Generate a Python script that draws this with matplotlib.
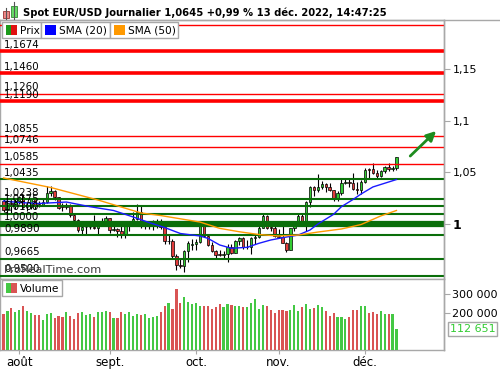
import numpy as np
import pandas as pd
import matplotlib
matplotlib.use('Agg')
import matplotlib.pyplot as plt
import matplotlib.transforms as mtransforms
from matplotlib.patches import Rectangle

# daily bars, 26 Jul -> 13 Dec 2022
dates = pd.bdate_range('2022-07-26', '2022-12-13')

opens = [1.0222, 1.0131, 1.0201, 1.0196, 1.0220, 1.0262, 1.0165, 1.0168, 1.0245, 1.0197,
         1.0189, 1.0212, 1.0298, 1.0319, 1.0257, 1.0172, 1.0168, 1.0178, 1.0086, 1.0037,
         0.9943, 0.9967, 0.9970, 0.9971, 0.9966, 1.0003, 1.0015, 1.0055, 0.9945, 0.9955,
         0.9928, 0.9903, 0.9996, 1.0002, 1.0045, 1.0120, 0.9976, 0.9977, 0.9998, 1.0014,
         1.0029, 0.9970, 0.9835, 0.9838, 0.9689, 0.9607, 0.9593, 0.9737, 0.9796, 0.9802,
         0.9825, 0.9986, 0.9886, 0.9793, 0.9742, 0.9707, 0.9702, 0.9707, 0.9778, 0.9720,
         0.9838, 0.9864, 0.9776, 0.9780, 0.9862, 0.9877, 0.9964, 1.0079, 0.9968, 0.9962,
         0.9882, 0.9874, 0.9820, 0.9749, 0.9958, 1.0017, 1.0075, 1.0013, 1.0209, 1.0355,
         1.0325, 1.0356, 1.0386, 1.0363, 1.0325, 1.0244, 1.0303, 1.0397, 1.0409, 1.0396,
         1.0342, 1.0331, 1.0406, 1.0530, 1.0535, 1.0494, 1.0467, 1.0509, 1.0556, 1.0531,
         1.0540]
highs = [1.0249, 1.0210, 1.0234, 1.0254, 1.0274, 1.0294, 1.0209, 1.0254, 1.0253, 1.0223,
         1.0248, 1.0368, 1.0364, 1.0330, 1.0264, 1.0201, 1.0202, 1.0191, 1.0097, 1.0050,
         0.9998, 0.9999, 1.0011, 1.0090, 1.0028, 1.0055, 1.0079, 1.0057, 1.0033, 0.9957,
         0.9990, 1.0016, 1.0029, 1.0112, 1.0198, 1.0187, 1.0020, 1.0017, 1.0037, 1.0050,
         1.0051, 0.9976, 0.9906, 0.9852, 0.9709, 0.9669, 0.9750, 0.9838, 0.9854, 0.9854,
         0.9999, 0.9998, 0.9904, 0.9823, 0.9751, 0.9749, 0.9740, 0.9807, 0.9807, 0.9845,
         0.9876, 0.9874, 0.9848, 0.9873, 0.9900, 0.9976, 1.0094, 1.0088, 0.9980, 0.9976,
         0.9954, 0.9977, 0.9826, 0.9966, 1.0033, 1.0094, 1.0094, 1.0222, 1.0365, 1.0364,
         1.0481, 1.0420, 1.0395, 1.0399, 1.0330, 1.0322, 1.0449, 1.0448, 1.0434, 1.0497,
         1.0403, 1.0429, 1.0545, 1.0545, 1.0594, 1.0519, 1.0528, 1.0567, 1.0587, 1.0567,
         1.0650]
lows = [1.0112, 1.0095, 1.0111, 1.0145, 1.0198, 1.0160, 1.0123, 1.0150, 1.0141, 1.0162,
        1.0180, 1.0202, 1.0270, 1.0234, 1.0150, 1.0123, 1.0143, 1.0072, 1.0033, 0.9926,
        0.9899, 0.9902, 0.9947, 0.9950, 0.9900, 0.9984, 1.0001, 0.9911, 0.9933, 0.9877,
        0.9864, 0.9864, 0.9930, 0.9990, 1.0040, 0.9966, 0.9955, 0.9956, 0.9945, 0.9966,
        0.9954, 0.9810, 0.9807, 0.9671, 0.9553, 0.9571, 0.9536, 0.9635, 0.9749, 0.9751,
        0.9815, 0.9875, 0.9784, 0.9730, 0.9670, 0.9686, 0.9668, 0.9632, 0.9710, 0.9716,
        0.9799, 0.9757, 0.9757, 0.9706, 0.9809, 0.9862, 0.9961, 0.9955, 0.9933, 0.9872,
        0.9860, 0.9812, 0.9731, 0.9747, 0.9934, 0.9993, 1.0005, 0.9935, 1.0167, 1.0271,
        1.0313, 1.0335, 1.0313, 1.0318, 1.0222, 1.0227, 1.0282, 1.0385, 1.0356, 1.0332,
        1.0290, 1.0290, 1.0393, 1.0443, 1.0488, 1.0443, 1.0458, 1.0492, 1.0518, 1.0515,
        1.0522]
closes = [1.0131, 1.0201, 1.0196, 1.0220, 1.0262, 1.0165, 1.0168, 1.0245, 1.0180, 1.0189,
          1.0212, 1.0298, 1.0319, 1.0257, 1.0160, 1.0168, 1.0178, 1.0086, 1.0037, 0.9943,
          0.9967, 0.9970, 0.9971, 0.9966, 1.0003, 1.0015, 1.0055, 0.9945, 0.9955, 0.9928,
          0.9903, 1.0010, 1.0002, 1.0045, 1.0120, 0.9976, 0.9977, 0.9998, 1.0014, 1.0029,
          0.9970, 0.9835, 0.9838, 0.9689, 0.9607, 0.9593, 0.9737, 0.9815, 0.9802, 0.9825,
          0.9986, 0.9886, 0.9793, 0.9742, 0.9702, 0.9702, 0.9707, 0.9778, 0.9720, 0.9838,
          0.9864, 0.9776, 0.9780, 0.9862, 0.9877, 0.9964, 1.0079, 0.9964, 0.9962, 0.9882,
          0.9874, 0.9820, 0.9749, 0.9958, 1.0017, 1.0075, 1.0013, 1.0209, 1.0355, 1.0325,
          1.0356, 1.0386, 1.0363, 1.0325, 1.0244, 1.0303, 1.0397, 1.0409, 1.0396, 1.0342,
          1.0331, 1.0406, 1.0523, 1.0520, 1.0494, 1.0467, 1.0509, 1.0556, 1.0531, 1.0540,
          1.0645]

# volume in thousands
volumes = [194, 209, 225, 203, 214, 235, 210, 198, 189, 187, 160, 193, 198, 171, 180, 175,
           203, 182, 166, 198, 203, 189, 194, 176, 203, 203, 209, 203, 171, 171, 203, 193,
           203, 182, 194, 187, 194, 171, 176, 182, 205, 235, 251, 219, 326, 251, 283, 257,
           246, 251, 235, 235, 235, 219, 230, 246, 230, 246, 241, 235, 235, 230, 232, 251,
           273, 219, 241, 235, 214, 198, 214, 214, 209, 214, 241, 209, 230, 246, 219, 225,
           241, 230, 209, 182, 198, 176, 176, 166, 176, 214, 214, 235, 235, 198, 203, 193,
           209, 193, 193, 193, 112.651]

# moving averages at some bars
sma20_idx = [0, 4, 9, 16, 22, 28, 33, 37, 41, 45, 50, 52, 55, 58, 62, 65, 68, 72, 75,
             78, 80, 84, 86, 89, 91, 94, 98, 100]
sma20_val = [1.0223, 1.0208, 1.0199, 1.0213, 1.0168, 1.0131, 1.0068, 1.0015, 0.9966,
             0.9908, 0.9884, 0.9861, 0.9797, 0.9765, 0.9774, 0.9813, 0.9845, 0.9874,
             0.9893, 0.9942, 1.0000, 1.0094, 1.0168, 1.0239, 1.0291, 1.0359, 1.0407, 1.0431]
sma50_idx = [0, 12, 24, 35, 40, 50, 55, 60, 65, 70, 75, 80, 86, 91, 96, 100]
sma50_val = [1.0446, 1.0354, 1.0233, 1.0107, 1.0082, 1.0019, 0.9958, 0.9925, 0.9898,
             0.9884, 0.9893, 0.9922, 0.9952, 0.9995, 1.0078, 1.0131]

# support / resistance levels
levels = [1.1928, 1.1674, 1.1460, 1.1260, 1.1190, 1.0855, 1.0746, 1.0585,
          1.0435, 1.0238, 1.0175, 1.0100, 1.0000, 0.9890, 0.9665, 0.9500]
level_labels = ['', '1,1674', '1,1460', '1,1260', '1,1190', '1,0855', '1,0746', '1,0585',
                '1,0435', '1,0238', '1,0175', '1,0100', '1,0000', '0,9890', '0,9665', '0,9500']
level_widths = [1, 2.6, 2.6, 1, 2.6, 1, 1, 1, 1.5, 1.5, 1.5, 1.5, 4.5, 1.5, 1.5, 1.5]

price_ticks = [1.0, 1.05, 1.1, 1.15]
price_tick_labels = ['1', '1,05', '1,1', '1,15']
vol_ticks = [200000, 300000]
vol_tick_labels = ['200 000', '300 000']
month_labels = ['août', 'sept.', 'oct.', 'nov.', 'déc.']
title = 'Spot EUR/USD Journalier 1,0645 +0,99 % 13 déc. 2022, 14:47:25'
last_volume_label = '112 651'
arrow_from = (103, 1.064)
arrow_to = (110.6, 1.092)

GREEN = '#33cc33'
RED = '#e23b3b'
VGREEN = '#44c844'
VRED = '#d95454'
LINE_RED = '#ff0000'
LINE_GREEN = '#0a6e0a'
FRAME = '#a8a8a8'

W, H = 500, 370
fig = plt.figure(figsize=(W / 100, H / 100), dpi=100)


def px_axes(x0, y0, x1, y1):
    return fig.add_axes([x0 / W, 1 - y1 / H, (x1 - x0) / W, (y1 - y0) / H])


ax = px_axes(0, 20, 444, 278.5)
axv = px_axes(0, 279, 444, 350)

x = np.arange(len(dates))
o, h, l, c = map(np.array, (opens, highs, lows, closes))
up = c >= o
xlim = (-0.9, 112.1)

# candles
ax.vlines(x, l, h, color='black', lw=0.8, zorder=3)
ax.bar(x, np.maximum(np.abs(c - o), 0.0002), bottom=np.minimum(o, c), width=0.62,
       color=np.where(up, GREEN, RED), edgecolor='black', linewidth=0.5, zorder=4)

blend = mtransforms.blended_transform_factory(ax.transAxes, ax.transData)
for lev, lab, lw in zip(levels, level_labels, level_widths):
    col = LINE_RED if lev > 1.05 else LINE_GREEN
    ax.axhline(lev, color=col, lw=lw, zorder=5)
    if lab:
        ax.annotate(lab, xy=(0, lev), xycoords=blend, xytext=(3, 2.6),
                    textcoords='offset points', fontsize=7.4, va='baseline',
                    ha='left', zorder=7)

ax.plot(sma20_idx, sma20_val, color='#1a1aff', lw=1, zorder=6)
ax.plot(sma50_idx, sma50_val, color='#ff9a00', lw=1, zorder=6)

ax.annotate('', xy=arrow_to, xytext=arrow_from,
            arrowprops=dict(arrowstyle='-|>', color='#1e8c1e', lw=2, mutation_scale=14),
            annotation_clip=False, zorder=8)

ax.text(0.008, 0.015, 'ProRealTime.com', transform=ax.transAxes, fontsize=8.2,
        color='#3c3c3c', va='bottom', zorder=7)

ax.set_xlim(*xlim)
ax.set_ylim(0.9472, 1.1977)
ax.set_xticks([])
ax.yaxis.tick_right()
ax.set_yticks(price_ticks)
ax.set_yticklabels(price_tick_labels)
ax.tick_params(axis='y', length=4, color=FRAME, labelsize=8, pad=2)
for t in ax.get_yticklabels():
    if t.get_text() == '1':
        t.set_fontweight('bold')
        t.set_fontsize(9)

# volume
axv.bar(x, np.array(volumes) * 1000, width=0.55,
        color=np.where(up, VGREEN, VRED), zorder=3)
axv.set_xlim(*xlim)
axv.set_ylim(0, 380000)
axv.yaxis.tick_right()
axv.set_yticks(vol_ticks)
axv.set_yticklabels(vol_tick_labels)
axv.tick_params(axis='y', length=4, color=FRAME, labelsize=8, pad=2)
month_pos = [int(np.argmax(dates.month == m)) for m in (8, 9, 10, 11, 12)]
axv.set_xticks(month_pos)
axv.set_xticklabels(month_labels)
axv.tick_params(axis='x', length=3, color=FRAME, labelsize=8.5, pad=1.5)
axv.annotate(last_volume_label, xy=(1, volumes[-1] * 1000), xycoords=axv.get_yaxis_transform(),
             xytext=(4, 0), textcoords='offset points', fontsize=8, color=GREEN,
             va='center', ha='left', annotation_clip=False,
             bbox=dict(boxstyle='square,pad=0.15', fc='white', ec=FRAME, lw=1))

for a in (ax, axv):
    for s in a.spines.values():
        s.set_color(FRAME)
        s.set_linewidth(1)

# overlay in pixel coords for header and legends
ov = fig.add_axes([0, 0, 1, 1], zorder=10)
ov.set_xlim(0, W)
ov.set_ylim(H, 0)
ov.axis('off')
ov.patch.set_alpha(0)

ov.plot([0, W], [20, 20], color=FRAME, lw=1)
ov.plot([444, 444], [20, 350], color=FRAME, lw=1)
# header icon
ov.plot([6, 6], [8, 19], color='#555555', lw=0.8)
ov.add_patch(Rectangle((3, 11), 6, 6.5, fc='#ee8888', ec='#993333', lw=0.6))
ov.plot([14, 14], [2, 19], color='#555555', lw=0.8)
ov.add_patch(Rectangle((11, 5.5), 6, 11, fc='#66dd66', ec='#338833', lw=0.6))
ov.text(23, 12.5, title, fontsize=7.2, fontweight='bold', va='center', ha='left')


def legend_box(x0, x1, y0, y1, label, colors):
    ov.add_patch(Rectangle((x0, y0), x1 - x0, y1 - y0, fc='white', ec=FRAME, lw=1))
    sq = 11.5
    sy = (y0 + y1) / 2 - 5
    if len(colors) == 1:
        ov.add_patch(Rectangle((x0 + 3.5, sy), sq, 10, fc=colors[0], ec='none'))
    else:
        ov.add_patch(Rectangle((x0 + 3.5, sy), sq / 2, 10, fc=colors[0], ec='none'))
        ov.add_patch(Rectangle((x0 + 3.5 + sq / 2, sy), sq / 2, 10, fc=colors[1], ec='none'))
    ov.text(x0 + 18, (y0 + y1) / 2 + 0.5, label, fontsize=7.6, va='center', ha='left')


legend_box(2, 41, 22, 38, 'Prix', ['#1a9a1a', '#e01010'])
legend_box(41, 110, 22, 38, 'SMA (20)', ['#0000ff'])
legend_box(110, 178, 22, 38, 'SMA (50)', ['#ff9900'])
legend_box(2, 62, 280, 296, 'Volume', [VGREEN, VRED])

fig.savefig('out.png', dpi=100)
